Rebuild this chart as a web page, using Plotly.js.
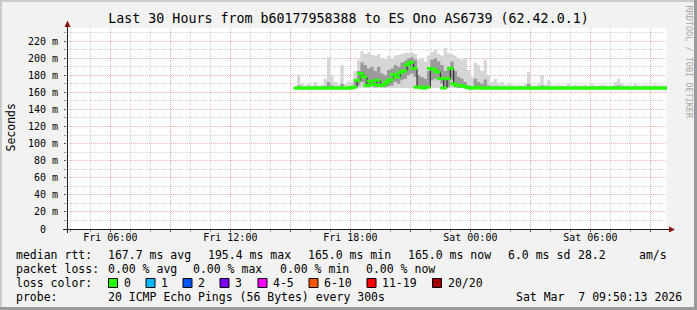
<!DOCTYPE html>
<html><head><meta charset="utf-8">
<script src="https://cdn.plot.ly/plotly-3.0.1.min.js"></script>
<style>html,body{margin:0;padding:0;background:#f2f2f2;}#chart{width:697px;height:310px;}</style>
</head><body><div id="chart"></div>
<script>
// ---------------- data ----------------
const firstSample = [2026, 2, 6, 15, 20]; // Fri 15:20, 10-minute samples
const stepMinutes = 10;

const median = [
 165,165,165,165,165,165,165,165,165,165,165,165,165,165,165,165,165,
 166,174,182,178,168,173,169,174,168,169,172,175,181,178,183,185,192,195,188,166,166,165,166,188,187,184,176,165,176,188,170,168,168,167,166,
 165,165,166,165,165,165,165,165,165,165,165,165,165,165,165,165,165,165,165,165,165,165,165,165,165,
 165,165,165,165,165,165,165,165,165,165,165,165,165,165,165,165,165,165,165,165,165,165,165,165,165,165,165,165,165,165,165,165,165,165,165
];
const smokeMin = [
 165,165,165,165,165,165,165,165,165,165,165,165,165,165,165,165,165,
 165,165,165,165,165,165,165,165,165,165,165,165,165,165,165,165,165,165,165,165,165,165,165,165,165,165,165,165,165,165,165,165,165,165,165,
 165,165,165,165,165,165,165,165,165,165,165,165,165,165,165,165,165,165,165,165,165,165,165,165,165,
 165,165,165,165,165,165,165,165,165,165,165,165,165,165,165,165,165,165,165,165,165,165,165,165,165,165,165,165,165,165,165,165,165,165,165
];
const smokeLo = [
 165,165,165,165,165,165,165,165,165,165,165,165,165,165,165,165,165,
 165,168,172,170,166,167,166,168,166,166,167,168,172,170,174,176,180,182,178,165,165,165,165,174,176,174,170,165,166,174,166,165,165,165,165,
 165,165,165,165,165,165,165,165,165,165,165,165,165,165,165,165,165,165,165,165,165,165,165,165,165,
 165,165,165,165,165,165,165,165,165,165,165,165,165,165,165,165,165,165,165,165,165,165,165,165,165,165,165,165,165,165,165,165,165,165,165
];
const smokeHi = [
 168,166,166,166,166,167,166,166,167,172,168,166,166,170,166,167,166,
 172,185,195,192,188,190,185,190,182,180,186,188,192,190,195,197,200,201,198,180,178,176,185,198,200,196,192,185,190,196,185,178,176,172,168,
 167,176,172,170,175,168,166,167,166,166,166,166,166,166,166,166,166,170,166,166,166,168,166,167,166,
 166,166,166,166,166,166,166,166,166,166,166,166,166,166,166,166,166,166,167,168,167,166,166,166,166,166,166,166,166,166,166,166,166,166,166
];
const smokeMax = [
 181,170,168,170,168,172,168,169,176,201,180,172,169,192,170,173,172,
 185,198,208,205,207,204,203,205,200,199,203,200,203,204,205,206,206,207,205,198,200,196,203,207,210,205,203,212,206,205,203,200,198,200,186,
 178,195,192,185,198,180,172,176,170,172,169,170,169,168,169,168,170,184,169,168,170,180,169,174,168,
 168,169,168,168,170,168,169,168,168,169,168,170,168,168,169,168,168,168,172,176,171,168,169,168,170,168,168,169,168,168,169,168,168,168,168
];

const xTickLabels = ['Fri 06:00','','Fri 12:00','','Fri 18:00','','Sat 00:00','','Sat 06:00',''];
const yTickValues = [0,20,40,60,80,100,120,140,160,180,200,220];
const yTickLabels = ['0\u00a0\u00a0','20 m','40 m','60 m','80 m','100 m','120 m','140 m','160 m','180 m','200 m','220 m'];
const yMinorValues = [10,30,50,70,90,110,130,150,170,190,210,230];

const lossLabels = ['0','1','2','3','4-5','6-10','11-19','20/20'];
const lossColors = ['#26ff00','#00b8ff','#0059ff','#7e00ff','#ff00ff','#ff5500','#ff0000','#a10000'];

const titleText = 'Last 30 Hours from b60177958388 to ES Ono AS6739 (62.42.0.1)';

// ---------------- helpers ----------------
function fmt(ms){
  const d = new Date(ms);
  const p = n => String(n).padStart(2,'0');
  return d.getUTCFullYear()+'-'+p(d.getUTCMonth()+1)+'-'+p(d.getUTCDate())+' '+p(d.getUTCHours())+':'+p(d.getUTCMinutes());
}
const t0 = Date.UTC(...firstSample);
const times = median.map((_, i) => fmt(t0 + i*stepMinutes*60000));
const tickStart = Date.UTC(2026,2,6,6,0);
const xTickVals = xTickLabels.map((_, i) => fmt(tickStart + i*3*3600000));
// hourly minor grid, skipping the 3-hourly major lines
const xMinorVals = [];
for (let h = 4; h <= 33; h++) { if (h % 3 !== 0) xMinorVals.push(fmt(Date.UTC(2026,2,6,0,0) + h*3600000)); }

const L = 67, T = 28, W = 600, H = 201;
const px = x => (x - L) / W;
const py = y => (T + H - y) / H;

const FONT = 'DejaVu Sans Mono';
const GREEN = lossColors[0];

// ---------------- traces ----------------
const base = {x: times, type: 'scatter', mode: 'lines', hoverinfo: 'skip', showlegend: false};
const traces = [
  Object.assign({}, base, {y: smokeMin, line: {width: 0, shape: 'hv'}}),
  Object.assign({}, base, {y: smokeMax, line: {width: 0, shape: 'hv'}, fill: 'tonexty', fillcolor: '#d6d6d6'}),
  Object.assign({}, base, {y: smokeLo, line: {width: 0, shape: 'hv'}}),
  Object.assign({}, base, {y: smokeHi, line: {width: 0, shape: 'hv'}, fill: 'tonexty', fillcolor: '#9a9a9a'}),
  Object.assign({}, base, {y: median, line: {width: 1, shape: 'hv', color: '#1a1a1a'}}),
  Object.assign({}, base, {y: median, mode: 'markers',
    marker: {symbol: 'line-ew', size: 5, line: {width: 3, color: GREEN}}})
];

// ---------------- annotations ----------------
const ann = [];
function txt(x, y, s, opts){
  ann.push(Object.assign({xref:'paper', yref:'paper', x: px(x), y: py(y), text: s, showarrow:false,
    xanchor:'left', yanchor:'middle', borderpad:0, borderwidth:0,
    font:{family:FONT, size:11.5, color:'#000'}}, opts||{}));
}
txt(16,255,'median rtt:');
txt(108,255,'167.7 ms avg'); txt(208,255,'195.4 ms max'); txt(308,255,'165.0 ms min');
txt(408,255,'165.0 ms now'); txt(508,255,'6.0 ms sd'); txt(578,255,'28.2'); txt(639,255,'am/s');
txt(16,269,'packet loss:');
txt(108,269,'0.00 % avg'); txt(193,269,'0.00 % max'); txt(280,269,'0.00 % min'); txt(366,269,'0.00 % now');
txt(16,283,'loss color:');
const boxX = [108.5,146,183,220,258,309,367,432.5];
const labX = [124,161,198,235,272.5,324,382,447.5];
lossLabels.forEach((l,i) => txt(labX[i],283,l));
txt(16,297,'probe:');
txt(108,297,'20 ICMP Echo Pings (56 Bytes) every 300s');
txt(682,297,'Sat Mar\u00a0\u00a07 09:50:13 2026',{xanchor:'right'});
txt(10,127.5,'Seconds',{xanchor:'center', textangle:-90});
txt(688,5,'RRDTOOL / TOBI OETIKER',{xanchor:'center', yanchor:'top', textangle:90, font:{family:FONT, size:8.5, color:'#a8a8a8'}});

// ---------------- shapes ----------------
const shapes = [];
lossColors.forEach((c,i) => shapes.push({type:'rect', xref:'paper', yref:'paper',
  x0: px(boxX[i]), x1: px(boxX[i]+9), y0: py(287.5), y1: py(278.5),
  fillcolor: c, line:{color:'#000', width:1}}));
shapes.push({type:'line', xref:'paper', yref:'paper', x0:px(63), x1:px(671), y0:py(229.5), y1:py(229.5), line:{color:'#202020', width:1}});
shapes.push({type:'line', xref:'paper', yref:'paper', x0:px(67.5), x1:px(67.5), y0:py(233), y1:py(25), line:{color:'#202020', width:1}});
shapes.push({type:'path', xref:'paper', yref:'paper',
  path:`M ${px(675)},${py(229.5)} L ${px(669)},${py(226.5)} L ${px(669)},${py(232.5)} Z`,
  fillcolor:'#8b1010', line:{width:0}});
shapes.push({type:'path', xref:'paper', yref:'paper',
  path:`M ${px(67.5)},${py(20.5)} L ${px(64.5)},${py(27)} L ${px(70.5)},${py(27)} Z`,
  fillcolor:'#8b1010', line:{width:0}});
shapes.push({type:'rect', xref:'paper', yref:'paper', x0:px(0), x1:px(697), y0:py(2), y1:py(0), fillcolor:'#cbcbcb', line:{width:0}});
shapes.push({type:'rect', xref:'paper', yref:'paper', x0:px(0), x1:px(2), y0:py(310), y1:py(0), fillcolor:'#cbcbcb', line:{width:0}});
shapes.push({type:'rect', xref:'paper', yref:'paper', x0:px(694), x1:px(697), y0:py(310), y1:py(0), fillcolor:'#9a9a9a', line:{width:0}});
shapes.push({type:'rect', xref:'paper', yref:'paper', x0:px(0), x1:px(697), y0:py(310), y1:py(307), fillcolor:'#9a9a9a', line:{width:0}});

const MINOR = '#d4d4d4', MAJOR = '#eeb0b0';
const layout = {
  width: 697, height: 310,
  margin: {l: L, r: 697 - L - W, t: T, b: 310 - T - H, pad: 0},
  paper_bgcolor: '#f2f2f2', plot_bgcolor: '#ffffff',
  showlegend: false,
  title: {text: titleText, font: {family: FONT, size: 13.3, color: '#000'},
    xref: 'container', yref: 'container', x: 348.5/697, xanchor: 'center', y: 1 - 18.5/310, yanchor: 'middle'},
  xaxis: {type: 'date', range: ['2026-03-06 03:50', '2026-03-07 09:50'],
    tickmode: 'array', tickvals: xTickVals, ticktext: xTickLabels,
    showgrid: true, gridcolor: MAJOR, griddash: '1px,1px', gridwidth: 1,
    ticks: 'outside', ticklen: 2, tickcolor: '#555', zeroline: false, showline: false,
    tickfont: {family: FONT, size: 10, color: '#000'}, ticklabelstandoff: -3,
    minor: {tickmode: 'array', tickvals: xMinorVals, showgrid: true,
      gridcolor: MINOR, griddash: '1px,1px', ticks: 'outside', ticklen: 2, tickcolor: '#999'},
    fixedrange: true},
  yaxis: {range: [0, 235.3], tickmode: 'array', tickvals: yTickValues, ticktext: yTickLabels,
    showgrid: true, gridcolor: MAJOR, griddash: '1px,1px', gridwidth: 1,
    ticks: 'outside', ticklen: 2, tickcolor: '#555', zeroline: false, showline: false,
    tickfont: {family: FONT, size: 10, color: '#000'}, ticklabelstandoff: 4,
    minor: {tickmode: 'array', tickvals: yMinorValues, showgrid: true,
      gridcolor: MINOR, griddash: '1px,1px', ticks: 'outside', ticklen: 2, tickcolor: '#999'},
    fixedrange: true},
  annotations: ann,
  shapes: shapes
};

Plotly.newPlot('chart', traces, layout, {staticPlot: true, displayModeBar: false});
</script>
</body></html>
